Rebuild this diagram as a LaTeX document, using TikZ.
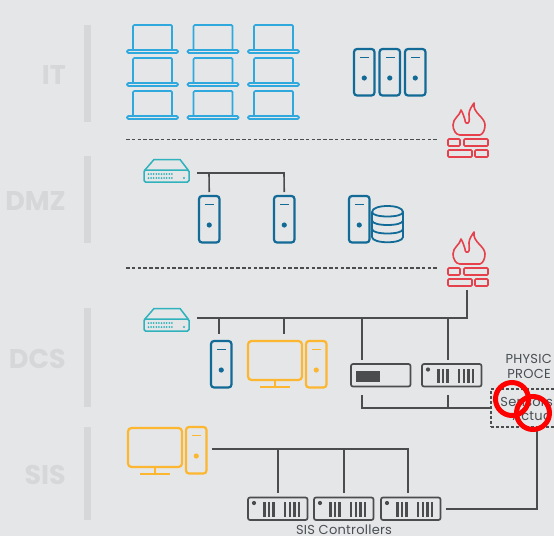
\documentclass[tikz,border=0pt]{standalone}
\usepackage{fontspec}
\usetikzlibrary{calc}
\setmainfont{Poppins}
\newfontfamily\spacedfont[LetterSpace=2]{Poppins}
\definecolor{bg}{HTML}{E4E6E8}
\definecolor{zone}{HTML}{D5D7D9}
\definecolor{laptopc}{HTML}{2FA8DE}
\definecolor{serverc}{HTML}{126A96}
\definecolor{yellowc}{HTML}{FDB62F}
\definecolor{redc}{HTML}{E5404B}
\definecolor{tealc}{HTML}{2FB2BC}
\definecolor{darkc}{HTML}{4A4C4E}
\definecolor{txtc}{HTML}{4A4E52}
\tikzset{
  x=1pt,y=-1pt,
  anchorbox/.style={inner sep=0,outer sep=0,anchor=north west,minimum width=#1},
  wire/.style={draw=darkc,line width=1.6pt},
  sep/.style={draw=darkc,line width=1.4pt,dash pattern=on 3.6pt off 2.2pt},
  zonebar/.style={fill=zone,draw=none},
  zonelabel/.style={anchor=east,text=zone,font=\fontsize{27}{27}\selectfont\bfseries,inner sep=0},
  caption/.style={text=txtc,font=\spacedfont\fontsize{13}{14}\selectfont,inner sep=0,align=center},
  redring/.style={circle,draw=red,line width=5pt,minimum size=33pt,inner sep=0},
  pics/laptop/.style={code={
    \draw[laptopc,line width=1.7pt,rounded corners=1.2pt] (6,25) -- (6,0) -- (45,0) -- (45,25);
    \draw[laptopc,line width=1.7pt,rounded corners=1.4pt] (0,25) rectangle (51,28);
  }},
  pics/server/.style={code={
    \node[anchorbox=20.5pt,minimum height=46.5pt,draw=#1,line width=2.2pt,rounded corners=3pt] (-box) at (0,0) {};
    \draw[#1,line width=1.8pt] (6,8.5) -- (15,8.5);
    \fill[#1] (10.25,29) circle (2.6pt);
  }},
  pics/monitor/.style={code={
    \draw[yellowc,line width=2.2pt,rounded corners=3.5pt] (0,0) rectangle (54,39);
    \draw[yellowc,line width=2.2pt] (27,39) -- (27,46) (12,46) -- (42,46);
  }},
  pics/netswitch/.style={code={
    \node[anchorbox=45pt,minimum height=12pt,draw=tealc,line width=1.5pt,rounded corners=1.5pt] (-box) at (0,11) {};
    \draw[tealc,line width=1.5pt,line join=round] (0.5,11.5) -- (10,0.5) -- (36,0.5) -- (44.5,11.5);
    \foreach \c in {0,...,9}{\fill[tealc] (4.5+\c*2.6,15) circle (1pt);\fill[tealc] (4.5+\c*2.6,19) circle (1pt);}
    \fill[tealc] (40,19) circle (1.1pt);
  }},
  pics/ctrl/.style={code={
    \node[anchorbox=59.5pt,minimum height=22.5pt,draw=darkc,line width=1.7pt,rounded corners=2pt] (-box) at (0,0) {};
    \fill[darkc] (6,5.5) circle (2.1pt);
    \foreach \c in {16.5,21,25.5,37,42,46.5,51}{\fill[darkc] (\c-1.1,4.5) rectangle (\c+1.1,19);}
  }},
  pics/firewall/.style={code={
    \draw[redc,line width=1.6pt,line join=round]
      (12,32) .. controls (8,32) and (5,27) .. (5,22)
      .. controls (5,15) and (12,13) .. (13,7)
      .. controls (15,10) and (16,14) .. (17,17)
      .. controls (17,20) and (19,21) .. (20,20)
      .. controls (22,19) and (21,15) .. (21,11)
      .. controls (21,7) and (24,3) .. (26,0)
      .. controls (25,5) and (28,9) .. (32,13)
      .. controls (35,16) and (37,19) .. (37,22)
      .. controls (37,27) and (35,31) .. (32,32) -- cycle;
    \node[anchorbox=40pt,minimum height=18pt] (-box) at (0,36) {};
    \draw[redc,line width=1.6pt,rounded corners=1pt]
      (0,36) rectangle (12,43) (16,36) rectangle (40,43)
      (0,47) rectangle (24,54) (27,47) rectangle (40,54);
  }},
}
\begin{document}
\begin{tikzpicture}
\useasboundingbox (0,0) rectangle (554,536);
\clip (0,0) rectangle (554,536);
\fill[bg] (0,0) rectangle (554,536);

% zones
\fill[zonebar] (84,25) rectangle (91,122);
\fill[zonebar] (84,156) rectangle (91,243);
\fill[zonebar] (84,308) rectangle (91,407);
\fill[zonebar] (84,427) rectangle (91,520);
\node[zonelabel] (lit) at (66,75) {IT};
\node[zonelabel] (ldmz) at (66,201) {DMZ};
\node[zonelabel] (ldcs) at (66,359) {DCS};
\node[zonelabel] (lsis) at (66,475) {SIS};

% IT
\foreach \px in {127,187.5,248}\foreach \py in {25,58,91}{
  \pic at (\px,\py) {laptop};
}
\pic (it1) at (354,49) {server=serverc};
\pic (it2) at (379.5,49) {server=serverc};
\pic (it3) at (405,49) {server=serverc};

% firewalls and separators
\pic (fw1) at (448,103) {firewall};
\pic (fw2) at (448,232) {firewall};
\coordinate (s1a) at (126,139.5);
\coordinate (s1b) at (439,139.5);
\coordinate (s2a) at (126,268);
\coordinate (s2b) at (439,268);
\draw[sep] (s1a) -- (s1b);
\draw[sep] (s2a) -- (s2b);

% DMZ
\pic (sw1) at (144,159) {netswitch};
\pic (d1) at (199,196) {server=serverc};
\pic (d2) at (274,196) {server=serverc};
\pic (d3) at (349,196) {server=serverc};
\begin{scope}[serverc,line width=1.8pt]
  \draw (372,212) .. controls (372,204) and (403,204) .. (403,212) -- (403,237)
        .. controls (403,244) and (372,244) .. (372,237) -- cycle;
  \draw (372,212) .. controls (372,218) and (403,218) .. (403,212);
  \draw (372,220.5) .. controls (372,226.5) and (403,226.5) .. (403,220.5);
  \draw (372,229) .. controls (372,235) and (403,235) .. (403,229);
\end{scope}
\coordinate (b1) at (197,173);
\coordinate (b1j1) at (209,173);
\coordinate (b1j2) at (284,173);
\draw[wire] (b1) -- (b1j2) -- ($(d2-box.north)+(0,-4)$);
\draw[wire] (b1j1) -- ($(d1-box.north)+(0,-4)$);

% DCS
\pic (sw2) at (144,308) {netswitch};
\pic (dc1) at (211,341) {server=serverc};
\pic (hmi1) at (248,341) {monitor};
\pic (dc2) at (306,341) {server=yellowc};
\node[anchorbox=59.5pt,minimum height=22.5pt,draw=darkc,line width=1.7pt,rounded corners=2pt] (plc) at (351,364) {};
\fill[darkc] (356,371) rectangle (380,382);
\pic (ctl0) at (422,364) {ctrl};
\coordinate (b2) at (197,318);
\coordinate (b2r) at (467,318);
\coordinate (b2j1) at (219,318);
\coordinate (b2j2) at (284,318);
\coordinate (b2j3) at (362,318);
\coordinate (b2j4) at (448,318);
\coordinate (p1) at (362,408);
\coordinate (p2) at (448,408);
\draw[wire] (b2) -- (b2r) -- ($(fw2-box.south)+(-1,4)$);
\draw[wire] (b2j1) -- (219,334);
\draw[wire] (b2j2) -- (284,334);
\draw[wire] (b2j3) -- (362,360);
\draw[wire] (b2j4) -- (448,360);

% physical process: the reference cuts these words at its right edge
\node[caption,anchor=east] (phys1) at (552,359) {PHYSIC};
\node[caption,anchor=east] (phys2) at (551,374) {PROCE};
\node[inner sep=0,outer sep=0,anchor=north west,minimum width=80pt,minimum height=38pt,draw=darkc,line width=1.3pt,dash pattern=on 3pt off 2pt] (proc) at (491,389) {};
\node[caption,anchor=east] (sens) at (553,402) {Sensors};
\node[caption,anchor=east] (act) at (552,416) {Actua};
\coordinate (q1) at (362,395);
\coordinate (q2) at (448,395);
\coordinate (q3) at (491,408);
\draw[wire] (q1) -- (p1) -- (q3);
\draw[wire] (q2) -- (p2);

% SIS
\pic (hmi2) at (128,428) {monitor};
\pic (st) at (186,427) {server=yellowc};
\pic (c1) at (248,497.5) {ctrl};
\pic (c2) at (314,497.5) {ctrl};
\pic (c3) at (381,497.5) {ctrl};
\coordinate (b3) at (212,449);
\coordinate (b3r) at (408,449);
\coordinate (b3j1) at (278,449);
\coordinate (b3j2) at (344,449);
\draw[wire] (b3) -- (b3r) -- (408,493);
\draw[wire] (b3j1) -- (278,493);
\draw[wire] (b3j2) -- (344,493);
\coordinate (r1) at (446,509);
\coordinate (r2) at (537,509);
\coordinate (r3) at (537,427);
\draw[wire] (r1) -- (r2) -- (r3);
\node[caption] (sisc) at (344,529.5) {SIS Controllers};

% red rings
\node[redring] (ring1) at (512,399) {};
\node[redring] (ring2) at (533,413) {};
\end{tikzpicture}
\end{document}
